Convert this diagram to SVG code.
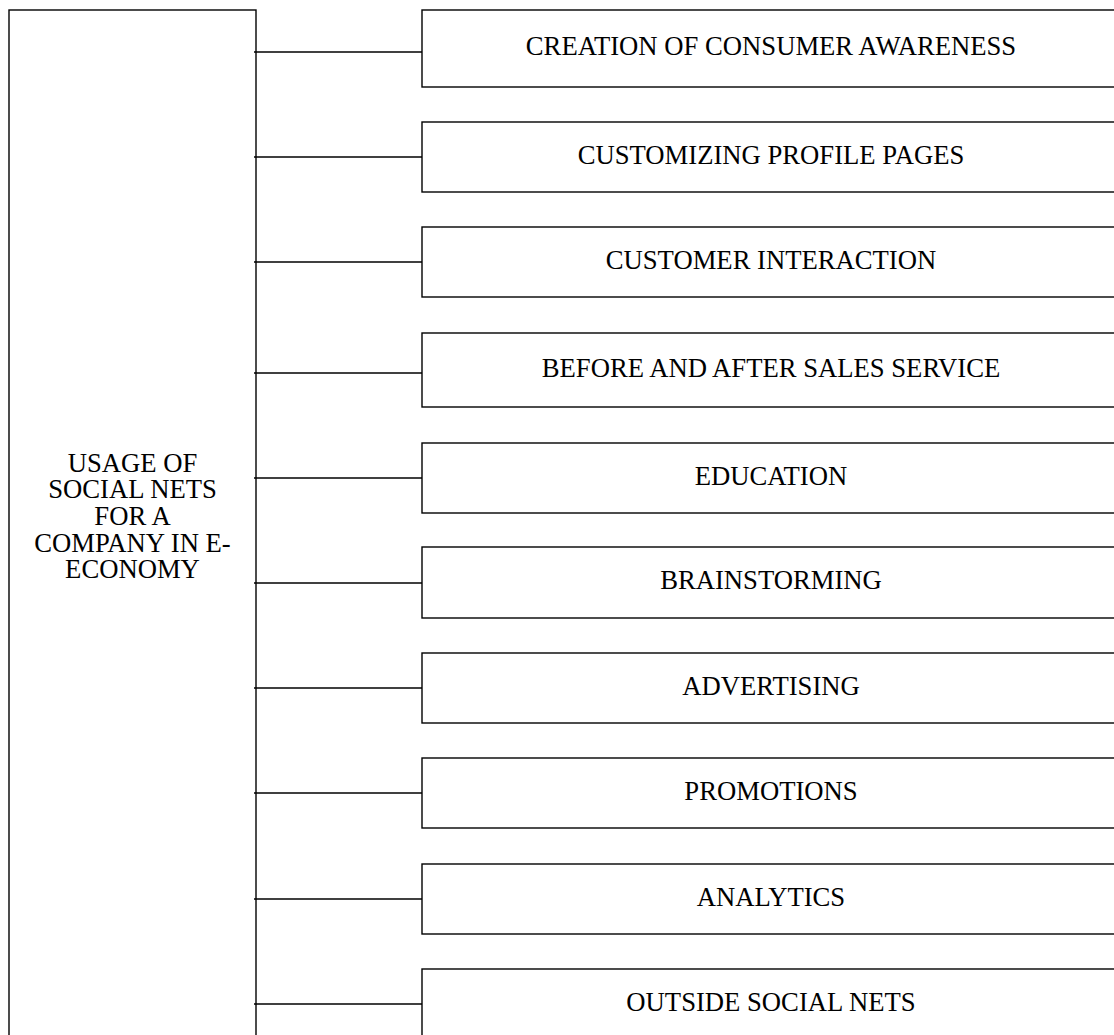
<svg xmlns="http://www.w3.org/2000/svg" width="1114" height="1035" viewBox="0 0 1114 1035">
<style>
.box{fill:#fff;stroke:#000;stroke-width:1.4}
.ln{stroke:#000;stroke-width:1.4;fill:none}
text{font-family:"Liberation Serif","Times New Roman",serif;font-size:26.67px;fill:#000;text-anchor:middle}
</style>
<rect width="1114" height="1035" fill="#fff"/>
<g id="root">
<rect class="box" x="9" y="10" width="247" height="1040"/>
<text x="132.5" y="471.7">USAGE OF</text>
<text x="132.5" y="498.3">SOCIAL NETS</text>
<text x="132.5" y="525">FOR A</text>
<text x="132.5" y="551.7">COMPANY IN E-</text>
<text x="132.5" y="578.3">ECONOMY</text>
</g>
<g id="connectors">
<line class="ln" x1="254" y1="52" x2="422" y2="52"/>
<line class="ln" x1="254" y1="157" x2="422" y2="157"/>
<line class="ln" x1="254" y1="262" x2="422" y2="262"/>
<line class="ln" x1="254" y1="373" x2="422" y2="373"/>
<line class="ln" x1="254" y1="478" x2="422" y2="478"/>
<line class="ln" x1="254" y1="583" x2="422" y2="583"/>
<line class="ln" x1="254" y1="688" x2="422" y2="688"/>
<line class="ln" x1="254" y1="793" x2="422" y2="793"/>
<line class="ln" x1="254" y1="899" x2="422" y2="899"/>
<line class="ln" x1="254" y1="1004" x2="422" y2="1004"/>
</g>
<g id="n1"><rect class="box" x="422" y="10" width="698" height="77"/><text x="771" y="55">CREATION OF CONSUMER AWARENESS</text></g>
<g id="n2"><rect class="box" x="422" y="122" width="698" height="70"/><text x="771" y="163.5">CUSTOMIZING PROFILE PAGES</text></g>
<g id="n3"><rect class="box" x="422" y="227" width="698" height="70"/><text x="771" y="268.5">CUSTOMER INTERACTION</text></g>
<g id="n4"><rect class="box" x="422" y="333" width="698" height="74"/><text x="771" y="376.7">BEFORE AND AFTER SALES SERVICE</text></g>
<g id="n5"><rect class="box" x="422" y="443" width="698" height="70"/><text x="771" y="485">EDUCATION</text></g>
<g id="n6"><rect class="box" x="422" y="547" width="698" height="71"/><text x="771" y="589.2">BRAINSTORMING</text></g>
<g id="n7"><rect class="box" x="422" y="653" width="698" height="70"/><text x="771" y="694.7">ADVERTISING</text></g>
<g id="n8"><rect class="box" x="422" y="758" width="698" height="70"/><text x="771" y="799.7">PROMOTIONS</text></g>
<g id="n9"><rect class="box" x="422" y="864" width="698" height="70"/><text x="771" y="905.7">ANALYTICS</text></g>
<g id="n10"><rect class="box" x="422" y="969" width="698" height="80"/><text x="771" y="1011">OUTSIDE SOCIAL NETS</text></g>
</svg>
